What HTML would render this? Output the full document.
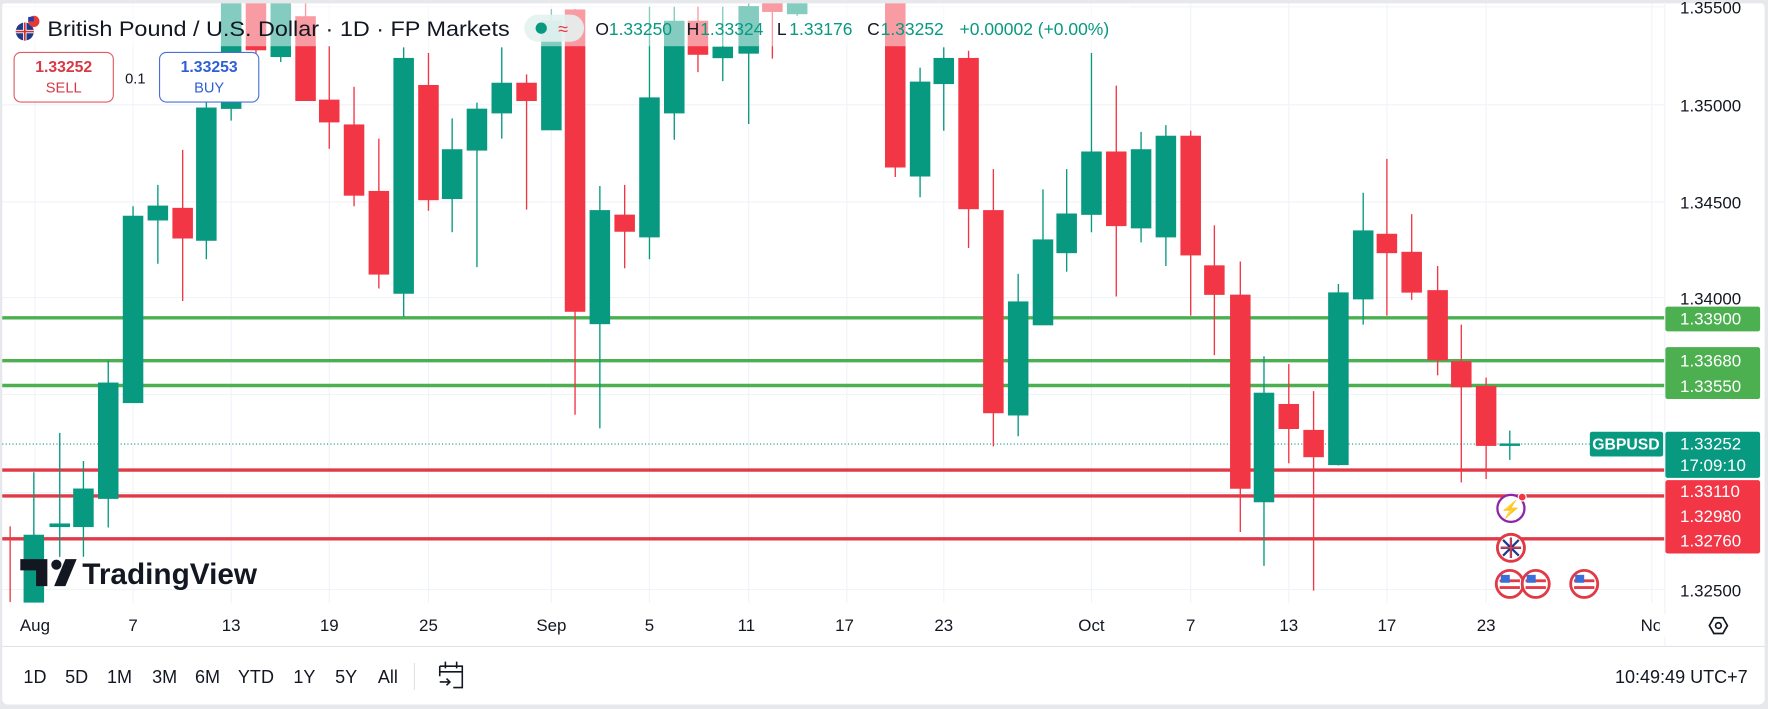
<!DOCTYPE html>
<html><head><meta charset="utf-8"><style>
html,body{margin:0;padding:0;background:#e6e8ec;}
svg{display:block;}
text{font-family:"Liberation Sans",sans-serif;}
</style></head><body>
<svg width="1768" height="709" viewBox="0 0 1568 629" preserveAspectRatio="none" xmlns="http://www.w3.org/2000/svg">
<rect x="0" y="0" width="1568" height="629" fill="#e6e8ec"/>
<rect x="2" y="2" width="1563" height="623" rx="5" fill="#ffffff"/>
<!-- grid -->
<g stroke="#f0f3fa" stroke-width="1">
<line x1="2" x2="1476" y1="6" y2="6"/><line x1="2" x2="1476" y1="93" y2="93"/><line x1="2" x2="1476" y1="179" y2="179"/><line x1="2" x2="1476" y1="264" y2="264"/><line x1="2" x2="1476" y1="350" y2="350"/><line x1="2" x2="1476" y1="437" y2="437"/><line x1="2" x2="1476" y1="523" y2="523"/>
<line x1="31" x2="31" y1="2" y2="535"/><line x1="118" x2="118" y1="2" y2="535"/><line x1="205" x2="205" y1="2" y2="535"/><line x1="292" x2="292" y1="2" y2="535"/><line x1="380" x2="380" y1="2" y2="535"/><line x1="489" x2="489" y1="2" y2="535"/><line x1="576" x2="576" y1="2" y2="535"/><line x1="664" x2="664" y1="2" y2="535"/><line x1="751" x2="751" y1="2" y2="535"/><line x1="837" x2="837" y1="2" y2="535"/><line x1="968" x2="968" y1="2" y2="535"/><line x1="1056" x2="1056" y1="2" y2="535"/><line x1="1143" x2="1143" y1="2" y2="535"/><line x1="1230" x2="1230" y1="2" y2="535"/><line x1="1318" x2="1318" y1="2" y2="535"/><line x1="1465" x2="1465" y1="2" y2="535"/>
</g>
<!-- horizontal levels -->
<g stroke-width="3">
<line x1="2" x2="1476" y1="282" y2="282" stroke="#4caf50"/>
<line x1="2" x2="1476" y1="320" y2="320" stroke="#4caf50"/>
<line x1="2" x2="1476" y1="342" y2="342" stroke="#4caf50"/>
<line x1="2" x2="1476" y1="417" y2="417" stroke="#e03a46"/>
<line x1="2" x2="1476" y1="440" y2="440" stroke="#e03a46"/>
<line x1="2" x2="1476" y1="478" y2="478" stroke="#e03a46"/>
</g>
<line x1="2" x2="1410" y1="394" y2="394" stroke="#089981" stroke-width="1" stroke-dasharray="1,2"/>
<!-- candles -->
<g stroke-width="1.2">
<g stroke="#089981" fill="#089981">
<line x1="30" x2="30" y1="419" y2="534"/><rect x="21.5" y="475" width="17" height="59"/>
<line x1="53" x2="53" y1="384" y2="494"/><rect x="44.5" y="465" width="17" height="2"/>
<line x1="74" x2="74" y1="409" y2="494"/><rect x="65.5" y="434" width="17" height="33"/>
<line x1="96" x2="96" y1="320" y2="468"/><rect x="87.5" y="340" width="17" height="102"/>
<line x1="118" x2="118" y1="183" y2="357"/><rect x="109.5" y="192" width="17" height="165"/>
<line x1="140" x2="140" y1="164" y2="234"/><rect x="131.5" y="183" width="17" height="12"/>
<line x1="183" x2="183" y1="90" y2="230"/><rect x="174.5" y="96" width="17" height="117"/>
<line x1="205" x2="205" y1="0" y2="107"/><rect x="196.5" y="0" width="17" height="96"/>
<line x1="249" x2="249" y1="0" y2="55"/><rect x="240.5" y="0" width="17" height="50"/>
<line x1="358" x2="358" y1="42" y2="281"/><rect x="349.5" y="52" width="17" height="208"/>
<line x1="401" x2="401" y1="105" y2="206"/><rect x="392.5" y="133" width="17" height="43"/>
<line x1="423" x2="423" y1="91" y2="237"/><rect x="414.5" y="97" width="17" height="36"/>
<line x1="445" x2="445" y1="42" y2="123"/><rect x="436.5" y="74" width="17" height="26"/>
<line x1="489" x2="489" y1="8" y2="115"/><rect x="480.5" y="19" width="17" height="96"/>
<line x1="532" x2="532" y1="165" y2="380"/><rect x="523.5" y="187" width="17" height="100"/>
<line x1="576" x2="576" y1="6" y2="230"/><rect x="567.5" y="87" width="17" height="123"/>
<line x1="598" x2="598" y1="6" y2="124"/><rect x="589.5" y="19" width="17" height="81"/>
<line x1="641" x2="641" y1="6" y2="72"/><rect x="632.5" y="42" width="17" height="9"/>
<line x1="664" x2="664" y1="3" y2="110"/><rect x="655.5" y="6" width="17" height="41"/>
<line x1="707" x2="707" y1="0" y2="14"/><rect x="698.5" y="0" width="17" height="12"/>
<line x1="816" x2="816" y1="60" y2="175"/><rect x="807.5" y="73" width="17" height="83"/>
<line x1="837" x2="837" y1="42" y2="116"/><rect x="828.5" y="52" width="17" height="22"/>
<line x1="903" x2="903" y1="243" y2="387"/><rect x="894.5" y="268" width="17" height="100"/>
<line x1="925" x2="925" y1="168" y2="288"/><rect x="916.5" y="213" width="17" height="75"/>
<line x1="946" x2="946" y1="150" y2="241"/><rect x="937.5" y="190" width="17" height="34"/>
<line x1="968" x2="968" y1="47" y2="206"/><rect x="959.5" y="135" width="17" height="55"/>
<line x1="1012" x2="1012" y1="117" y2="215"/><rect x="1003.5" y="133" width="17" height="69"/>
<line x1="1034" x2="1034" y1="111" y2="236"/><rect x="1025.5" y="121" width="17" height="89"/>
<line x1="1121" x2="1121" y1="316" y2="502"/><rect x="1112.5" y="349" width="17" height="96"/>
<line x1="1187" x2="1187" y1="252" y2="413"/><rect x="1178.5" y="260" width="17" height="152"/>
<line x1="1209" x2="1209" y1="171" y2="288"/><rect x="1200.5" y="205" width="17" height="60"/>
<line x1="1339" x2="1339" y1="382" y2="408"/><rect x="1330.5" y="394" width="17" height="1"/>
</g>
<g stroke="#f23645" fill="#f23645">
<line x1="9" x2="9" y1="467" y2="534"/>
<line x1="162" x2="162" y1="133" y2="267"/><rect x="153.5" y="185" width="17" height="26"/>
<line x1="227" x2="227" y1="0" y2="50"/><rect x="218.5" y="0" width="17" height="44"/>
<line x1="271" x2="271" y1="3" y2="89"/><rect x="262.5" y="15" width="17" height="74"/>
<line x1="292" x2="292" y1="41" y2="132"/><rect x="283.5" y="89" width="17" height="19"/>
<line x1="314" x2="314" y1="77" y2="183"/><rect x="305.5" y="111" width="17" height="62"/>
<line x1="336" x2="336" y1="123" y2="256"/><rect x="327.5" y="170" width="17" height="73"/>
<line x1="380" x2="380" y1="47" y2="187"/><rect x="371.5" y="76" width="17" height="101"/>
<line x1="467" x2="467" y1="66" y2="186"/><rect x="458.5" y="74" width="17" height="15"/>
<line x1="510" x2="510" y1="8" y2="368"/><rect x="501.5" y="9" width="17" height="267"/>
<line x1="554" x2="554" y1="164" y2="238"/><rect x="545.5" y="191" width="17" height="14"/>
<line x1="619" x2="619" y1="6" y2="64"/><rect x="610.5" y="19" width="17" height="29"/>
<line x1="685" x2="685" y1="0" y2="52"/><rect x="676.5" y="0" width="17" height="10"/>
<line x1="794" x2="794" y1="0" y2="157"/><rect x="785.5" y="0" width="17" height="148"/>
<line x1="859" x2="859" y1="45" y2="220"/><rect x="850.5" y="52" width="17" height="133"/>
<line x1="881" x2="881" y1="150" y2="396"/><rect x="872.5" y="187" width="17" height="179"/>
<line x1="990" x2="990" y1="76" y2="263"/><rect x="981.5" y="135" width="17" height="65"/>
<line x1="1056" x2="1056" y1="116" y2="280"/><rect x="1047.5" y="121" width="17" height="105"/>
<line x1="1077" x2="1077" y1="200" y2="315"/><rect x="1068.5" y="236" width="17" height="25"/>
<line x1="1100" x2="1100" y1="232" y2="472"/><rect x="1091.5" y="262" width="17" height="171"/>
<line x1="1143" x2="1143" y1="323" y2="411"/><rect x="1134.5" y="359" width="17" height="21"/>
<line x1="1165" x2="1165" y1="347" y2="524"/><rect x="1156.5" y="382" width="17" height="23"/>
<line x1="1230" x2="1230" y1="141" y2="280"/><rect x="1221.5" y="208" width="17" height="16"/>
<line x1="1252" x2="1252" y1="190" y2="266"/><rect x="1243.5" y="224" width="17" height="35"/>
<line x1="1275" x2="1275" y1="236" y2="333"/><rect x="1266.5" y="258" width="17" height="61"/>
<line x1="1296" x2="1296" y1="288" y2="428"/><rect x="1287.5" y="321" width="17" height="22"/>
<line x1="1318" x2="1318" y1="335" y2="425"/><rect x="1309.5" y="343" width="17" height="52"/>
</g>
</g>
<!-- top fade -->
<rect x="2" y="2" width="1000" height="39" fill="#ffffff" opacity="0.5"/>
<rect x="0" y="0" width="1568" height="3" fill="#e6e8ec"/>
<!-- header -->
<circle cx="22" cy="28" r="8" fill="#1e3a8a"/>
<path d="M14 28h16M22 20v16" stroke="#fff" stroke-width="3"/><path d="M14 28h16M22 20v16" stroke="#d32f2f" stroke-width="1.5"/>
<circle cx="30" cy="19" r="5" fill="#e53935"/><rect x="25" y="15" width="5" height="4" fill="#1e40af"/>
<text x="42" y="32" font-size="19" fill="#131722" textLength="410" lengthAdjust="spacingAndGlyphs">British Pound / U.S. Dollar · 1D · FP Markets</text>
<rect x="465" y="13" width="53" height="24" rx="12" fill="#e3f2ef" opacity="0.9"/>
<circle cx="480" cy="25" r="5" fill="#089981"/>
<text x="495" y="31" font-size="16" fill="#f23645">≈</text>
<g font-size="15.5">
<text x="528" y="31" fill="#131722">O</text><text x="540" y="31" fill="#089981">1.33250</text>
<text x="609" y="31" fill="#131722">H</text><text x="621" y="31" fill="#089981">1.33324</text>
<text x="689" y="31" fill="#131722">L</text><text x="700" y="31" fill="#089981">1.33176</text>
<text x="769" y="31" fill="#131722">C</text><text x="781" y="31" fill="#089981">1.33252</text>
<text x="851" y="31" fill="#089981">+0.00002 (+0.00%)</text>
</g>
<rect x="12.5" y="46.5" width="88" height="44" rx="6" fill="#fff" stroke="#e05a63" stroke-width="1"/>
<text x="56.5" y="64" font-size="14" font-weight="bold" fill="#d63a46" text-anchor="middle">1.33252</text>
<text x="56.5" y="82" font-size="13" fill="#d63a46" text-anchor="middle">SELL</text>
<text x="120" y="74" font-size="13" fill="#131722" text-anchor="middle">0.1</text>
<rect x="141.5" y="46.5" width="88" height="44" rx="6" fill="#fff" stroke="#4a6fd8" stroke-width="1"/>
<text x="185.5" y="64" font-size="14" font-weight="bold" fill="#2f5fd6" text-anchor="middle">1.33253</text>
<text x="185.5" y="82" font-size="13" fill="#2f5fd6" text-anchor="middle">BUY</text>
<!-- TV logo -->
<path d="M18 496h24v24h-10v-14h-14z" fill="#131722"/><circle cx="50" cy="501" r="4.5" fill="#131722"/><path d="M58 496h10l-10 24h-10z" fill="#131722"/>
<text x="73" y="518" font-size="26" font-weight="bold" fill="#131722" textLength="155" lengthAdjust="spacingAndGlyphs">TradingView</text>
<!-- event icons -->
<circle cx="1340" cy="451" r="12" fill="#fff" stroke="#8e24aa" stroke-width="2"/>
<text x="1340" y="457" font-size="15" fill="#8e24aa" text-anchor="middle">⚡</text>
<circle cx="1350" cy="441" r="3.5" fill="#f23645" stroke="#fff" stroke-width="1"/>
<g stroke="#e03a46" stroke-width="2.5">
<circle cx="1340" cy="486" r="12" fill="#fff"/>
<circle cx="1339" cy="518" r="12" fill="#fff"/>
<circle cx="1362" cy="518" r="12" fill="#fff"/>
<circle cx="1405" cy="518" r="12" fill="#fff"/>
</g>
<g><path d="M1331 486h18M1340 477v18M1333 479l14 14M1347 479l-14 14" stroke="#1e3a8a" stroke-width="2"/><path d="M1331 486h18M1340 477v18" stroke="#e03a46" stroke-width="1.5"/></g>
<g fill="#e03a46"><rect x="1330" y="514" width="18" height="2.5"/><rect x="1330" y="520" width="18" height="2.5"/><rect x="1353" y="514" width="18" height="2.5"/><rect x="1353" y="520" width="18" height="2.5"/><rect x="1396" y="514" width="18" height="2.5"/><rect x="1396" y="520" width="18" height="2.5"/></g>
<g fill="#3a6fd8"><rect x="1331" y="510" width="8" height="7"/><rect x="1354" y="510" width="8" height="7"/><rect x="1397" y="510" width="8" height="7"/></g>
<!-- price axis -->
<line x1="1476.5" x2="1476.5" y1="2" y2="573" stroke="#f0f3fa"/>
<g font-size="15" fill="#131722">
<text x="1490" y="12">1.35500</text>
<text x="1490" y="99">1.35000</text>
<text x="1490" y="185">1.34500</text>
<text x="1490" y="270">1.34000</text>
<text x="1490" y="529">1.32500</text>
</g>
<rect x="1477" y="272" width="84" height="22" rx="2" fill="#4caf50"/>
<rect x="1477" y="308" width="84" height="46" rx="2" fill="#4caf50"/>
<rect x="1477" y="426" width="84" height="65" rx="2" fill="#f23645"/>
<rect x="1410" y="383" width="65" height="22" rx="2" fill="#089981"/>
<rect x="1477" y="383" width="84" height="41" rx="2" fill="#089981"/>
<g font-size="15" fill="#ffffff">
<text x="1490" y="288">1.33900</text>
<text x="1490" y="325">1.33680</text>
<text x="1490" y="348">1.33550</text>
<text x="1442" y="399" text-anchor="middle" font-weight="bold" font-size="14">GBPUSD</text>
<text x="1490" y="399">1.33252</text>
<text x="1490" y="418">17:09:10</text>
<text x="1490" y="441">1.33110</text>
<text x="1490" y="463">1.32980</text>
<text x="1490" y="485">1.32760</text>
</g>
<!-- date axis -->
<g font-size="15" fill="#131722" text-anchor="middle">
<text x="31" y="560">Aug</text><text x="118" y="560">7</text><text x="205" y="560">13</text><text x="292" y="560">19</text><text x="380" y="560">25</text>
<text x="489" y="560">Sep</text><text x="576" y="560">5</text><text x="662" y="560">11</text><text x="749" y="560">17</text><text x="837" y="560">23</text>
<text x="968" y="560">Oct</text><text x="1056" y="560">7</text><text x="1143" y="560">13</text><text x="1230" y="560">17</text><text x="1318" y="560">23</text>
</g>
<text x="1455" y="560" font-size="15" fill="#131722">No</text>
<rect x="1472" y="545" width="5" height="20" fill="#fff"/>
<path d="M1516 555l4-7h8l4 7-4 7h-8z" fill="none" stroke="#131722" stroke-width="1.5"/><circle cx="1524" cy="555" r="2.5" fill="none" stroke="#131722" stroke-width="1.5"/>
<line x1="2" x2="1565" y1="573.5" y2="573.5" stroke="#e0e3eb"/>
<!-- bottom toolbar -->
<g font-size="16" fill="#131722" text-anchor="middle">
<text x="31" y="606">1D</text><text x="68" y="606">5D</text><text x="106" y="606">1M</text><text x="146" y="606">3M</text><text x="184" y="606">6M</text><text x="227" y="606">YTD</text><text x="270" y="606">1Y</text><text x="307" y="606">5Y</text><text x="344" y="606">All</text>
</g>
<line x1="367.5" x2="367.5" y1="588" y2="612" stroke="#e0e3eb"/>
<path d="M390 591h20v19h-8M390 591v9M390 596h20M395 587v6M405 587v6M390 605h9M396 602l3 3-3 3" fill="none" stroke="#131722" stroke-width="1.4"/>
<text x="1550" y="606" font-size="16" fill="#131722" text-anchor="end">10:49:49 UTC+7</text>
</svg>
</body></html>
